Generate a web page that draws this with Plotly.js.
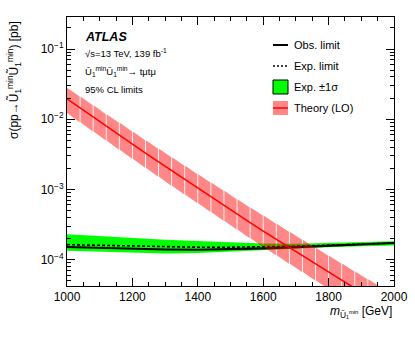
<!DOCTYPE html>
<html>
<head>
<meta charset="utf-8">
<script src="https://cdn.plot.ly/plotly-3.0.1.min.js"></script>
<style>html,body{margin:0;padding:0;background:#fff;} #plot{width:415px;height:341px;}</style>
</head>
<body>
<div id="plot"></div>
<script>
// ---- data ----
const massLim = [1000, 1100, 1200, 1300, 1400, 1500, 1600, 1700, 1800, 1900, 2000];
const obsLimit = [1.51e-4, 1.46e-4, 1.42e-4, 1.39e-4, 1.38e-4, 1.40e-4, 1.44e-4, 1.50e-4, 1.57e-4, 1.65e-4, 1.72e-4];
const expLimit = [1.63e-4, 1.59e-4, 1.55e-4, 1.52e-4, 1.50e-4, 1.50e-4, 1.52e-4, 1.55e-4, 1.60e-4, 1.66e-4, 1.72e-4];
const expUp    = [2.30e-4, 2.15e-4, 2.02e-4, 1.92e-4, 1.84e-4, 1.76e-4, 1.70e-4, 1.68e-4, 1.72e-4, 1.77e-4, 1.82e-4];
const expDown  = [1.33e-4, 1.29e-4, 1.25e-4, 1.22e-4, 1.24e-4, 1.30e-4, 1.38e-4, 1.44e-4, 1.50e-4, 1.55e-4, 1.58e-4];

const massTh = [1000,1040,1080,1120,1160,1200,1240,1280,1320,1360,1400,1440,1480,1520,1560,1600,1640,1680,1720,1760,1800,1840,1880,1920,1960,2000];
const theory = [1.95e-2,1.443e-2,1.071e-2,7.96e-3,5.92e-3,4.41e-3,3.30e-3,2.46e-3,1.845e-3,1.384e-3,1.04e-3,7.83e-4,5.90e-4,4.46e-4,3.37e-4,2.55e-4,1.94e-4,1.47e-4,1.12e-4,8.55e-5,6.53e-5,4.99e-5,3.83e-5,2.94e-5,2.26e-5,1.74e-5];
const theoryUp = [2.82e-2,2.106e-2,1.577e-2,1.182e-2,8.88e-3,6.68e-3,5.03e-3,3.80e-3,2.87e-3,2.17e-3,1.65e-3,1.253e-3,9.53e-4,7.26e-4,5.54e-4,4.24e-4,3.24e-4,2.49e-4,1.912e-4,1.472e-4,1.134e-4,8.76e-5,6.77e-5,5.25e-5,4.07e-5,3.16e-5];
const theoryDown = [1.23e-2,9.08e-3,6.71e-3,4.97e-3,3.68e-3,2.73e-3,2.03e-3,1.515e-3,1.13e-3,8.45e-4,6.33e-4,4.75e-4,3.56e-4,2.68e-4,2.02e-4,1.525e-4,1.153e-4,8.73e-5,6.62e-5,5.03e-5,3.83e-5,2.92e-5,2.23e-5,1.70e-5,1.30e-5,1.0e-5];

const xTickVals = [1000, 1200, 1400, 1600, 1800, 2000];
const yTickVals = [1e-4, 1e-3, 1e-2, 1e-1];
const yTickText = ['10<sup>−4</sup>', '10<sup>−3</sup>', '10<sup>−2</sup>', '10<sup>−1</sup>'];

// ---- geometry helpers ----
const W = 415, H = 341;
const M = {l: 67, r: 21, t: 17, b: 55};
const PW = W - M.l - M.r, PH = H - M.t - M.b;
const px = x => (x - M.l) / PW;
const py = y => (H - M.b - y) / PH;

const FONT = 'Liberation Sans, Arial, Helvetica, sans-serif';
const xRange = [1000, 2000];
const yRange = [-4.377, -0.543];

// theory band: one polygon per interval between neighbouring points, with a hairline gap
const GAP = 1.3;
const bandX = [], bandY = [];
for (let i = 0; i < massTh.length - 1; i++) {
  const a = massTh[i] + (i === 0 ? 0 : GAP), b = massTh[i + 1] - GAP;
  bandX.push(a, b, b, a, a, null);
  bandY.push(theoryUp[i], theoryUp[i + 1], theoryDown[i + 1], theoryDown[i], theoryUp[i], null);
}

const traces = [
  {x: massLim, y: expDown, type: 'scatter', mode: 'lines', line: {width: 0, color: '#00ff00'}, showlegend: false, hoverinfo: 'skip'},
  {x: massLim, y: expUp, type: 'scatter', mode: 'lines', fill: 'tonexty', fillcolor: '#00ff00', line: {width: 0, color: '#00ff00'}, name: 'Exp. ±1σ', showlegend: false},
  {x: massLim, y: expLimit, type: 'scatter', mode: 'lines', line: {color: '#000', width: 1.6, dash: '3px,2px'}, name: 'Exp. limit', showlegend: false},
  {x: massLim, y: obsLimit, type: 'scatter', mode: 'lines', line: {color: '#000', width: 2.2}, name: 'Obs. limit', showlegend: false},
  {x: bandX, y: bandY, type: 'scatter', mode: 'none', fill: 'toself', fillcolor: 'rgba(255,0,0,0.47)', connectgaps: false,
   xaxis: 'x2', yaxis: 'y2', name: 'Theory band', showlegend: false},
  {x: massTh, y: theory, type: 'scatter', mode: 'lines', line: {color: '#ff0000', width: 1.5}, xaxis: 'x2', yaxis: 'y2', name: 'Theory (LO)', showlegend: false}
];

const axisCommon = {
  showline: true, linecolor: '#000', linewidth: 1, mirror: 'allticks',
  ticks: 'inside', tickcolor: '#000', ticklen: 8, tickwidth: 1,
  showgrid: false, zeroline: false,
  tickfont: {family: FONT, size: 12, color: '#000'}
};

const shapes = [];
const annotations = [];
// legend (drawn by hand in ROOT style)
const legX0 = 273, legX1 = 288, legTx = 292;
shapes.push({type: 'line', xref: 'paper', yref: 'paper', x0: px(legX0), x1: px(legX1), y0: py(45), y1: py(45), line: {color: '#000', width: 2}});
shapes.push({type: 'line', xref: 'paper', yref: 'paper', x0: px(legX0), x1: px(legX1), y0: py(66), y1: py(66), line: {color: '#000', width: 1.5, dash: '2px,2px'}});
shapes.push({type: 'rect', xref: 'paper', yref: 'paper', x0: px(legX0), x1: px(legX1), y0: py(94), y1: py(80), fillcolor: '#00ff00', line: {color: '#000', width: 1}});
shapes.push({type: 'rect', xref: 'paper', yref: 'paper', x0: px(legX0), x1: px(legX1), y0: py(115), y1: py(101), fillcolor: 'rgba(255,0,0,0.47)', line: {width: 0}});
shapes.push({type: 'line', xref: 'paper', yref: 'paper', x0: px(legX0), x1: px(legX1), y0: py(108), y1: py(108), line: {color: '#ff0000', width: 1.5}});
const legTexts = [['Obs. limit', 45], ['Exp. limit', 66], ['Exp. ±1σ', 87], ['Theory (LO)', 108]];
legTexts.forEach(([t, y]) => annotations.push({xref: 'paper', yref: 'paper', x: px(legTx), y: py(y), xanchor: 'left', yanchor: 'middle', text: t, showarrow: false, font: {family: FONT, size: 11, color: '#000'}}));

// ATLAS labels
annotations.push({xref: 'paper', yref: 'paper', x: px(83), y: py(37), xanchor: 'left', yanchor: 'middle', text: '<b><i>ATLAS</i></b>', showarrow: false, font: {family: FONT, size: 12.5, color: '#000'}});
annotations.push({xref: 'paper', yref: 'paper', x: px(83), y: py(53), xanchor: 'left', yanchor: 'middle', text: '√s=13 TeV, 139 fb<sup>-1</sup>', showarrow: false, font: {family: FONT, size: 9.5, color: '#000'}});
annotations.push({xref: 'paper', yref: 'paper', x: px(83), y: py(71), xanchor: 'left', yanchor: 'middle', text: 'Ũ<sub>1</sub><sup>min</sup>Ũ<sub>1</sub><sup>min</sup>→ tμtμ', showarrow: false, font: {family: FONT, size: 9.5, color: '#000'}});
annotations.push({xref: 'paper', yref: 'paper', x: px(83), y: py(89), xanchor: 'left', yanchor: 'middle', text: '95% CL limits', showarrow: false, font: {family: FONT, size: 9.5, color: '#000'}});

// axis titles (ROOT style: right/top aligned)
annotations.push({xref: 'paper', yref: 'paper', x: px(14), y: py(19), xanchor: 'center', yanchor: 'top', textangle: -90, text: 'σ(pp→Ũ<sub>1</sub><sup>min</sup>Ũ<sub>1</sub><sup>min</sup>) [pb]', showarrow: false, font: {family: FONT, size: 12, color: '#000'}});
annotations.push({xref: 'paper', yref: 'paper', x: px(394), y: py(312), xanchor: 'right', yanchor: 'middle', text: '<i>m</i><sub>Ũ₁<sup>min</sup></sub> [GeV]', showarrow: false, font: {family: FONT, size: 12, color: '#000'}});

const layout = {
  width: W, height: H,
  margin: M,
  paper_bgcolor: '#fff', plot_bgcolor: '#fff',
  showlegend: false,
  xaxis: Object.assign({}, axisCommon, {
    range: xRange, tickvals: xTickVals, ticktext: xTickVals.map(String),
    minor: {ticks: 'inside', ticklen: 4, dtick: 50, tickcolor: '#000', showgrid: false}
  }),
  yaxis: Object.assign({}, axisCommon, {
    type: 'log', range: yRange, tickvals: yTickVals, ticktext: yTickText,
    minor: {ticks: 'inside', ticklen: 4, dtick: 'D1', tickcolor: '#000', showgrid: false}
  }),
  xaxis2: {overlaying: 'x', range: xRange, visible: false, anchor: 'y2'},
  yaxis2: {overlaying: 'y', type: 'log', range: yRange, visible: false, anchor: 'x2'},
  shapes: shapes,
  annotations: annotations
};

Plotly.newPlot('plot', traces, layout, {staticPlot: true, displayModeBar: false});
</script>
</body>
</html>
